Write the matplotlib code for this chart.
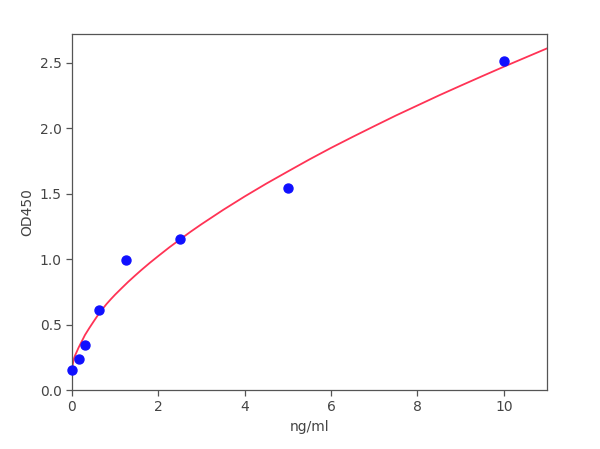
import matplotlib
matplotlib.use("Agg")
import matplotlib.pyplot as plt

# standard points
conc = [0, 0.156, 0.3125, 0.625, 1.25, 2.5, 5, 10]
od450 = [0.155, 0.24, 0.34, 0.61, 0.99, 1.15, 1.54, 2.51]

# fitted curve
curve_x = [0, 0.01, 0.02, 0.035, 0.05, 0.075, 0.1, 0.15, 0.2, 0.25, 0.3, 0.4,
           0.5, 0.6, 0.7, 0.8, 0.9, 1.0, 1.15, 1.3, 1.45, 1.6, 1.8, 2.0, 2.25,
           2.5, 2.75, 3, 3.5, 4, 4.5, 5, 5.5, 6, 6.5, 7, 7.5, 8, 8.5, 9, 9.5,
           10, 10.5, 11]
curve_y = [0.13, 0.175, 0.2, 0.225, 0.245, 0.267, 0.285, 0.322, 0.355, 0.387,
           0.42, 0.473, 0.523, 0.572, 0.616, 0.657, 0.694, 0.729, 0.778, 0.826,
           0.871, 0.915, 0.971, 1.024, 1.089, 1.15, 1.21, 1.267, 1.376, 1.479,
           1.577, 1.67, 1.762, 1.85, 1.934, 2.016, 2.097, 2.174, 2.251, 2.325,
           2.398, 2.47, 2.54, 2.61]

grey = "#555555"
fig = plt.figure(figsize=(6, 4.49), dpi=100)
ax = fig.add_axes([0.12, 0.1314, 0.7917, 0.7929])

ax.plot(curve_x, curve_y, color="#ff3355", lw=1.3, zorder=2)
ax.scatter(conc, od450, s=42, color="#1010ff", zorder=3, clip_on=False)

ax.set_xlim(0, 11)
ax.set_ylim(0, 2.72)
ax.set_xticks([0, 2, 4, 6, 8, 10])
ax.set_yticks([0, 0.5, 1.0, 1.5, 2.0, 2.5])
ax.set_xlabel("ng/ml", color="#444444", fontsize=10)
ax.set_ylabel("OD450", color="#444444", fontsize=10)

for s in ax.spines.values():
    s.set_color(grey)
    s.set_linewidth(0.9)
ax.tick_params(colors=grey, labelcolor="#444444", labelsize=10, direction="out",
               length=4, width=0.9)

fig.savefig("out.png", dpi=100)
